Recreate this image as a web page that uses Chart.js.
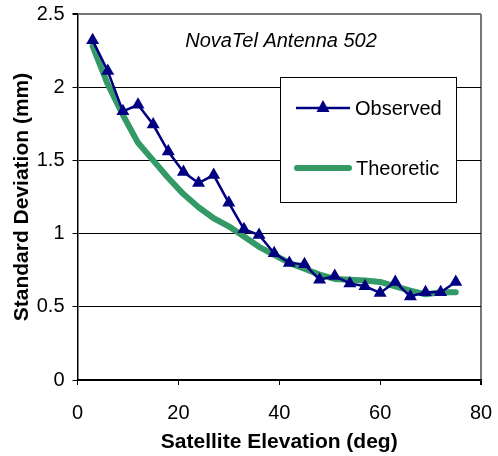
<!DOCTYPE html>
<html>
<head>
<meta charset="utf-8">
<script src="https://cdn.jsdelivr.net/npm/chart.js@4/dist/chart.umd.min.js"></script>
<style>
html,body{margin:0;padding:0;background:#fff;}
#wrap{width:498px;height:456px;position:relative;}
</style>
</head>
<body>
<div id="wrap"><canvas id="c" width="498" height="456"></canvas></div>
<script>
const elevations = [3,6,9,12,15,18,21,24,27,30,33,36,39,42,45,48,51,54,57,60,63,66,69,72,75];
const observed = [2.32,2.11,1.835,1.88,1.745,1.56,1.42,1.345,1.40,1.21,1.03,0.99,0.865,0.80,0.79,0.685,0.71,0.66,0.64,0.595,0.67,0.57,0.60,0.60,0.67];
const theoretic = [2.28,2.02,1.81,1.62,1.50,1.38,1.27,1.18,1.105,1.05,0.98,0.91,0.855,0.80,0.76,0.72,0.69,0.685,0.68,0.67,0.64,0.61,0.585,0.60,0.60];
const seriesNames = ['Observed','Theoretic'];
const chartTitle = 'NovaTel Antenna 502';
const xTitle = 'Satellite Elevation (deg)';
const yTitle = 'Standard Deviation (mm)';
const xTicks = [0,20,40,60,80];
const yTicks = [0,0.5,1,1.5,2,2.5];

const NAVY = '#000080';
const GREEN = '#339966';
const FONT = 'Liberation Sans, Arial, sans-serif';

const pts = (ys) => elevations.map((x,i)=>({x:x,y:ys[i]}));

const overlay = {
  id:'overlay',
  afterDraw(chart){
    const ctx = chart.ctx;
    ctx.save();
    ctx.fillStyle = '#000';
    ctx.font = 'italic 20px ' + FONT;
    ctx.textAlign = 'center';
    ctx.textBaseline = 'middle';
    ctx.fillText(chartTitle, 281, 41);
    ctx.fillStyle = '#fff';
    ctx.fillRect(280, 77, 177, 126);
    ctx.strokeStyle = '#000';
    ctx.lineWidth = 1;
    ctx.strokeRect(280.5, 77.5, 176, 125);
    const ds = chart.data.datasets;
    ctx.strokeStyle = ds[0].borderColor;
    ctx.lineWidth = ds[0].borderWidth;
    ctx.beginPath(); ctx.moveTo(296,108); ctx.lineTo(350,108); ctx.stroke();
    ctx.fillStyle = ds[0].pointBackgroundColor;
    ctx.beginPath();
    ctx.moveTo(323,100); ctx.lineTo(329.5,112); ctx.lineTo(316.5,112); ctx.closePath(); ctx.fill();
    ctx.strokeStyle = ds[1].borderColor;
    ctx.lineWidth = ds[1].borderWidth;
    ctx.lineCap = 'round';
    ctx.beginPath(); ctx.moveTo(297,168); ctx.lineTo(349,168); ctx.stroke();
    ctx.fillStyle = '#000';
    ctx.font = '20px ' + FONT;
    ctx.textAlign = 'left';
    ctx.fillText(ds[0].label, 355, 109);
    ctx.fillText(ds[1].label, 356, 169);
    ctx.restore();
  }
};

new Chart(document.getElementById('c'), {
  type:'line',
  data:{
    datasets:[
      {label:seriesNames[0], data:pts(observed), borderColor:NAVY, backgroundColor:NAVY,
       pointBackgroundColor:NAVY, pointBorderColor:NAVY, borderWidth:2.5, pointStyle:'triangle',
       pointRadius:7.5, pointBorderWidth:0, tension:0, fill:false},
      {label:seriesNames[1], data:pts(theoretic), borderColor:GREEN, backgroundColor:GREEN,
       borderWidth:6, pointRadius:0, tension:0, fill:false, borderJoinStyle:'round', borderCapStyle:'round'}
    ]
  },
  options:{
    responsive:false, animation:false, devicePixelRatio:1,
    layout:{padding:{left:0,right:17,top:14,bottom:0}},
    plugins:{legend:{display:false}, tooltip:{enabled:false}, title:{display:false}},
    scales:{
      x:{type:'linear', min:0, max:80,
        afterBuildTicks:(s)=>{s.ticks = xTicks.map(v=>({value:v}));},
        afterFit:(s)=>{s.height = 76; s.paddingRight = 0; s.paddingLeft = 0;},
        ticks:{color:'#000', font:{family:FONT,size:20}, padding:16, maxRotation:0},
        grid:{drawOnChartArea:true, color:(c)=> (c.tick && c.tick.value===80) ? '#777' : 'rgba(0,0,0,0)',
              lineWidth:(c)=> (c.tick && c.tick.value===80) ? 2 : 1,
              tickColor:'#000', tickLength:5, drawTicks:true},
        border:{color:'#000', width:1.5},
        title:{display:true, text:xTitle, color:'#000', font:{family:FONT,size:21,weight:'bold'}, padding:{top:0,bottom:1}}
      },
      y:{type:'linear', min:0, max:2.5,
        afterBuildTicks:(s)=>{s.ticks = yTicks.map(v=>({value:v}));},
        afterFit:(s)=>{s.width = 77.5; s.paddingTop = 0; s.paddingBottom = 0;},
        ticks:{color:'#000', font:{family:FONT,size:20}, padding:8, callback:(v)=>String(v)},
        grid:{color:(c)=> (c.tick && c.tick.value===2.5) ? '#777' : '#000',
              lineWidth:(c)=> (c.tick && c.tick.value===2.5) ? 2 : 1,
              tickColor:'#000', tickLength:5},
        border:{color:'#000', width:1.5},
        title:{display:true, text:yTitle, color:'#000', font:{family:FONT,size:21,weight:'bold'}, padding:{top:10,bottom:0}}
      }
    }
  },
  plugins:[overlay]
});
</script>
</body>
</html>
